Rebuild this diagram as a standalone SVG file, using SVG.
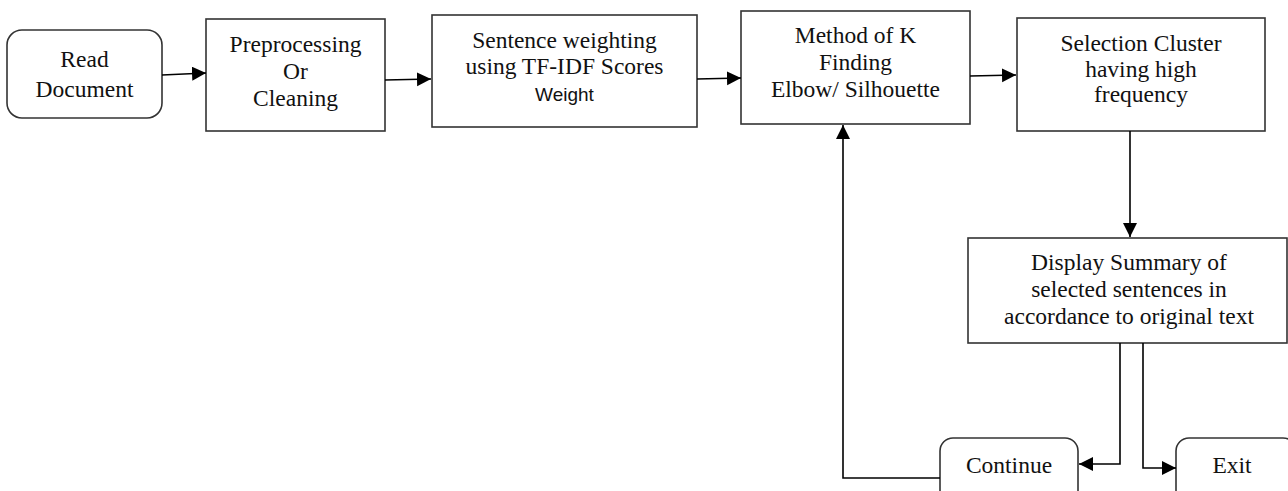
<svg xmlns="http://www.w3.org/2000/svg" width="1288" height="491" viewBox="0 0 1288 491">
<style>
.box{fill:#fff;stroke:#333;stroke-width:1.6}
.t{font-family:"Liberation Serif","Times New Roman",serif;font-size:23.5px;fill:#111;text-anchor:middle}
.s{font-family:"Liberation Sans",Arial,sans-serif;font-size:19px;fill:#111;text-anchor:middle}
.c{fill:none;stroke:#000;stroke-width:1.6}
</style>
<defs>
<marker id="ah" markerUnits="userSpaceOnUse" markerWidth="15" markerHeight="15" refX="14" refY="7" orient="auto">
<path d="M0,0 L14,7 L0,14 z" fill="#000"/>
</marker>
</defs>
<rect width="1288" height="491" fill="#fff"/>
<g id="read"><rect class="box" x="7" y="30" width="155" height="88" rx="15"/>
<text class="t" x="84.5" y="67">Read</text><text class="t" x="84.5" y="97">Document</text></g>
<g id="pre"><rect class="box" x="206" y="19" width="179" height="112"/>
<text class="t" x="295.5" y="52">Preprocessing</text><text class="t" x="295.5" y="79">Or</text><text class="t" x="295.5" y="106">Cleaning</text></g>
<g id="weight"><rect class="box" x="432" y="15" width="265" height="112"/>
<text class="t" x="564.5" y="48">Sentence weighting</text><text class="t" x="564.5" y="74">using TF-IDF Scores</text><text class="s" x="564.5" y="101">Weight</text></g>
<g id="method"><rect class="box" x="741" y="11" width="229" height="113"/>
<text class="t" x="855.5" y="43">Method of K</text><text class="t" x="855.5" y="70">Finding</text><text class="t" x="855.5" y="97">Elbow/ Silhouette</text></g>
<g id="select"><rect class="box" x="1017" y="18" width="248" height="113"/>
<text class="t" x="1141" y="51">Selection Cluster</text><text class="t" x="1141" y="77">having high</text><text class="t" x="1141" y="102">frequency</text></g>
<g id="display"><rect class="box" x="968" y="238" width="319" height="105"/>
<text class="t" x="1129" y="270">Display Summary of</text><text class="t" x="1129" y="297">selected sentences in</text><text class="t" x="1129" y="324">accordance to original text</text></g>
<g id="continue"><rect class="box" x="940" y="438" width="138" height="70" rx="13"/>
<text class="t" x="1009" y="473">Continue</text></g>
<g id="exit"><rect class="box" x="1176" y="438" width="120" height="70" rx="13"/>
<text class="t" x="1232" y="473">Exit</text></g>
<g id="connectors">
<path class="c" d="M162,75 L206,73" marker-end="url(#ah)"/>
<path class="c" d="M385,80 L431,79" marker-end="url(#ah)"/>
<path class="c" d="M697,79 L741,78" marker-end="url(#ah)"/>
<path class="c" d="M970,76 L1016,75" marker-end="url(#ah)"/>
<path class="c" d="M1130,131 L1130,237" marker-end="url(#ah)"/>
<path class="c" d="M1120,343 L1120,464 L1079,464" marker-end="url(#ah)"/>
<path class="c" d="M1143,343 L1143,468 L1176,468" marker-end="url(#ah)"/>
<path class="c" d="M940,478 L843,478 L843,125" marker-end="url(#ah)"/>
</g>
</svg>
